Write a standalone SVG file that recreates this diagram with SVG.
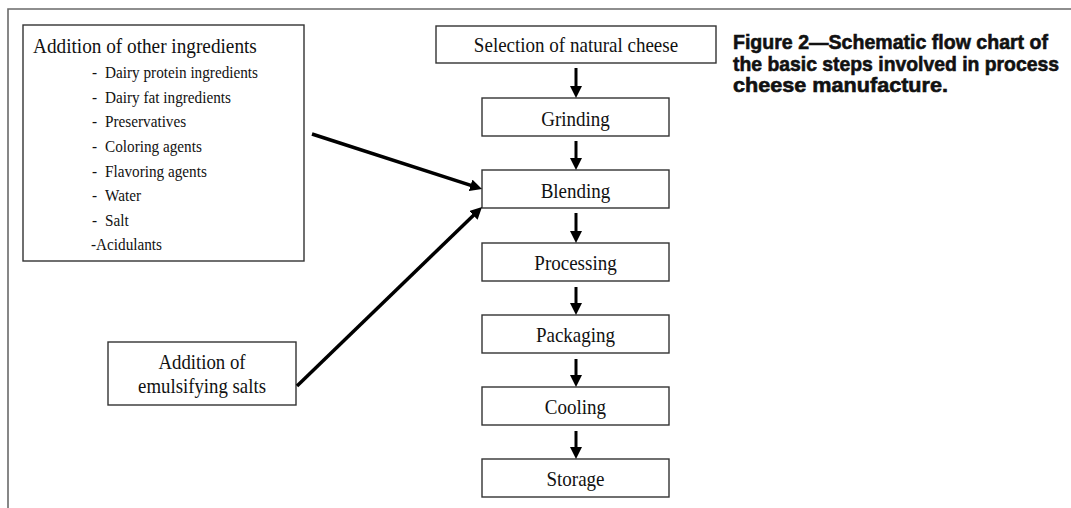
<svg xmlns="http://www.w3.org/2000/svg" width="1071" height="508" viewBox="0 0 1071 508">
<style>
.frame{fill:none;stroke:#6a6a6a;stroke-width:1.6}
.box{fill:#fff;stroke:#333;stroke-width:1.4}
.t{font-family:"Liberation Serif","Times New Roman",serif;font-size:22px;fill:#111}
.li{font-family:"Liberation Serif","Times New Roman",serif;font-size:17.5px;fill:#111}
.cap{font-family:"Liberation Sans",Arial,sans-serif;font-size:20.5px;font-weight:bold;fill:#111;stroke:#111;stroke-width:0.6}
.ar{fill:none;stroke:#000;stroke-width:3;marker-end:url(#ah)}
.ard{fill:none;stroke:#000;stroke-width:3.5;marker-end:url(#ah)}
</style>
<defs>
<marker id="ah" viewBox="0 0 12 12" markerWidth="12" markerHeight="12" refX="6" refY="6" orient="auto" markerUnits="userSpaceOnUse">
<path d="M0,0 L12,6 L0,12 z" fill="#000"/>
</marker>
</defs>
<rect width="1071" height="508" fill="#fff"/>
<path class="frame" d="M8,508 L8,9 L1071,9"/>

<g id="caption">
<text class="cap" x="733" y="48.5" textLength="315" lengthAdjust="spacingAndGlyphs">Figure 2—Schematic flow chart of</text>
<text class="cap" x="733" y="70.5" textLength="326" lengthAdjust="spacingAndGlyphs">the basic steps involved in process</text>
<text class="cap" x="733" y="92" textLength="215" lengthAdjust="spacingAndGlyphs">cheese manufacture.</text>
</g>

<g id="other-ingredients">
<rect class="box" x="23" y="25" width="281" height="236"/>
<text class="t" transform="translate(33 53.3) scale(0.875 1)">Addition of other ingredients</text>
<text class="li" transform="translate(92 78.3) scale(0.87 1)">- <tspan x="15">Dairy protein ingredients</tspan></text>
<text class="li" transform="translate(92 102.7) scale(0.87 1)">- <tspan x="15">Dairy fat ingredients</tspan></text>
<text class="li" transform="translate(92 127) scale(0.87 1)">- <tspan x="15">Preservatives</tspan></text>
<text class="li" transform="translate(92 152) scale(0.87 1)">- <tspan x="15">Coloring agents</tspan></text>
<text class="li" transform="translate(92 176.7) scale(0.87 1)">- <tspan x="15">Flavoring agents</tspan></text>
<text class="li" transform="translate(92 201) scale(0.87 1)">- <tspan x="15">Water</tspan></text>
<text class="li" transform="translate(92 226) scale(0.87 1)">- <tspan x="15">Salt</tspan></text>
<text class="li" transform="translate(91 250) scale(0.87 1)">-Acidulants</text>
</g>

<g id="emulsifying-salts">
<rect class="box" x="108" y="342" width="188" height="63"/>
<text class="t" text-anchor="middle" transform="translate(202 369) scale(0.855 1)">Addition of</text>
<text class="t" text-anchor="middle" transform="translate(202 393) scale(0.855 1)">emulsifying salts</text>
</g>

<g id="selection">
<rect class="box" x="436" y="26" width="280" height="37"/>
<text class="t" text-anchor="middle" transform="translate(576 52) scale(0.865 1)">Selection of natural cheese</text>
</g>
<g id="grinding">
<rect class="box" x="482" y="98" width="187" height="38"/>
<text class="t" text-anchor="middle" transform="translate(575.5 125.5) scale(0.865 1)">Grinding</text>
</g>
<g id="blending">
<rect class="box" x="482" y="170" width="187" height="38"/>
<text class="t" text-anchor="middle" transform="translate(575.5 197.5) scale(0.865 1)">Blending</text>
</g>
<g id="processing">
<rect class="box" x="482" y="243" width="187" height="38"/>
<text class="t" text-anchor="middle" transform="translate(575.5 270) scale(0.865 1)">Processing</text>
</g>
<g id="packaging">
<rect class="box" x="482" y="315" width="187" height="38"/>
<text class="t" text-anchor="middle" transform="translate(575.5 342) scale(0.865 1)">Packaging</text>
</g>
<g id="cooling">
<rect class="box" x="482" y="387" width="187" height="38"/>
<text class="t" text-anchor="middle" transform="translate(575.5 414) scale(0.865 1)">Cooling</text>
</g>
<g id="storage">
<rect class="box" x="482" y="459" width="187" height="38"/>
<text class="t" text-anchor="middle" transform="translate(575.5 486) scale(0.865 1)">Storage</text>
</g>

<g id="connectors">
<path class="ar" d="M576,68 L576,92"/>
<path class="ar" d="M576,141 L576,164"/>
<path class="ar" d="M576,213 L576,237"/>
<path class="ar" d="M576,287 L576,309"/>
<path class="ar" d="M576,359 L576,381"/>
<path class="ar" d="M576,431 L576,453"/>
<path class="ard" d="M312,134 L476.3,187.15"/>
<path class="ard" d="M297,386 L477.7,211.2"/>
</g>
</svg>
